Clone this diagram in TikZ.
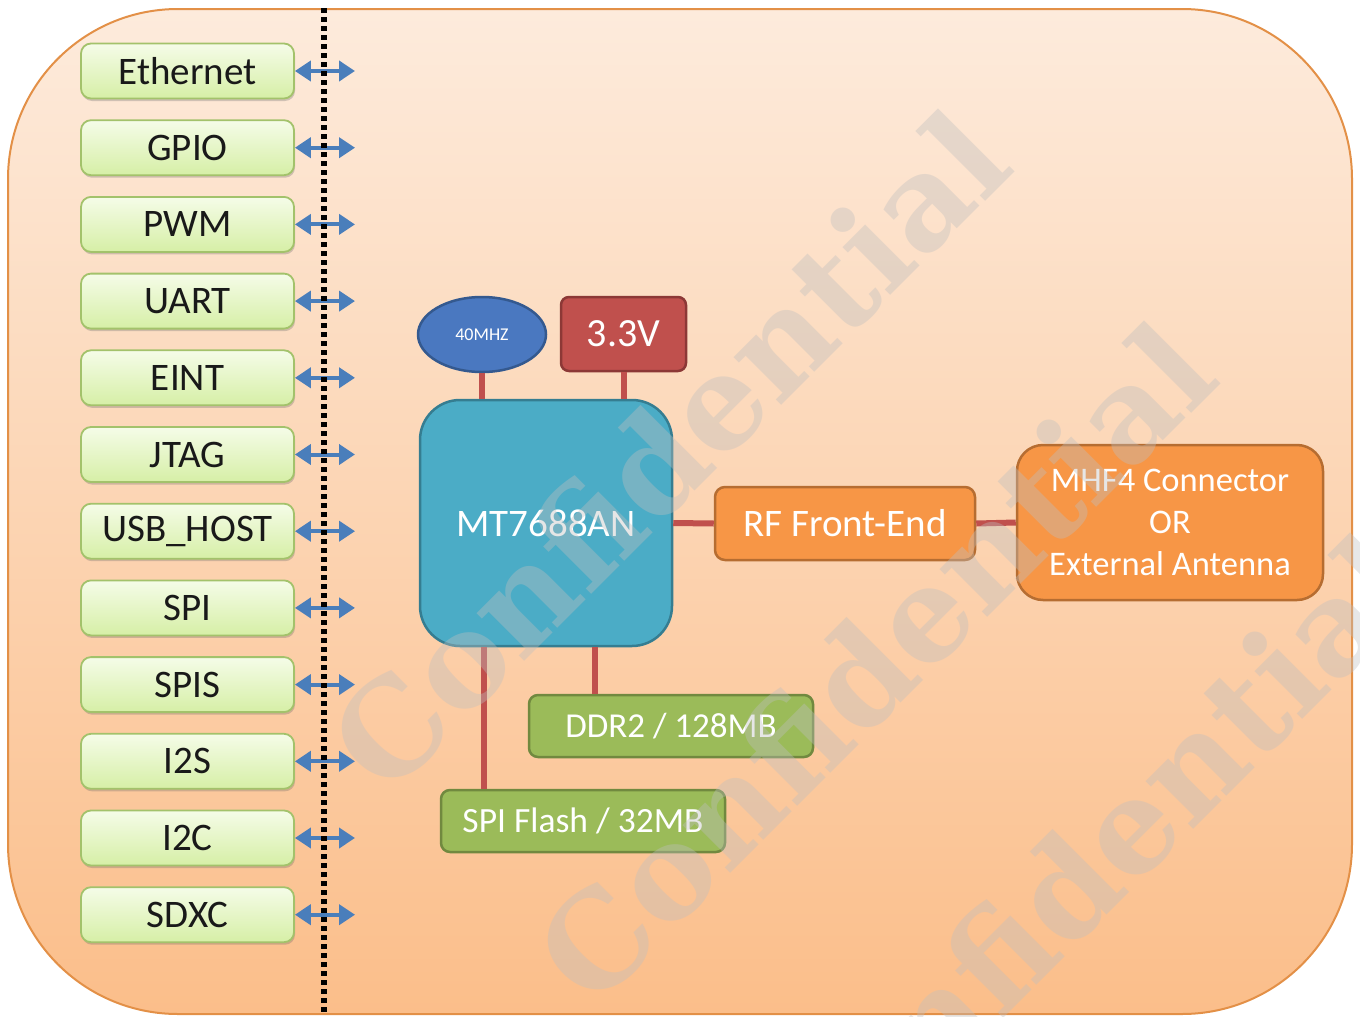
\documentclass[tikz,border=0pt]{standalone}
\usepackage{fontspec}
\setmainfont{Carlito}
\newfontfamily\wmfont{DejaVu Serif}
\usetikzlibrary{arrows.meta,shadows,shapes.geometric}
\definecolor{bgtop}{HTML}{FDEBDC}
\definecolor{bgbot}{HTML}{FBBE8A}
\definecolor{bgline}{HTML}{E39047}
\definecolor{lgtop}{HTML}{F5FCE8}
\definecolor{lgbot}{HTML}{D6EFA6}
\definecolor{lgline}{HTML}{A3C26B}
\definecolor{busblue}{HTML}{4A7EBB}
\definecolor{xtalfill}{HTML}{4A78C0}
\definecolor{xtalline}{HTML}{34598F}
\definecolor{pwrfill}{HTML}{C0504D}
\definecolor{pwrline}{HTML}{8C3836}
\definecolor{socfill}{HTML}{4BACC6}
\definecolor{socline}{HTML}{357D91}
\definecolor{rffill}{HTML}{F79646}
\definecolor{rfline}{HTML}{B66D31}
\definecolor{memfill}{HTML}{9BBB59}
\definecolor{memline}{HTML}{71893F}
\definecolor{linkred}{HTML}{C0504D}
\definecolor{wmgray}{HTML}{BFBFBF}
\tikzset{
  ifbox/.style={draw=lgline, line width=1.8pt, rounded corners=10pt,
    top color=lgtop, bottom color=lgbot, minimum width=213pt, minimum height=55pt,
    inner sep=0pt, text=black!90, font=\fontsize{39}{42}\selectfont,
    drop shadow={shadow xshift=1pt, shadow yshift=-2.5pt, opacity=0.3, fill=black!60}},
  busarrow/.style={busblue, line width=4pt,
    {Triangle[width=20pt,length=16pt]}-{Triangle[width=20pt,length=16pt]}},
  dotline/.style={black, line width=5.5pt, dash pattern=on 5pt off 4pt},
  blk/.style={line width=2.5pt, inner sep=0pt, text=white, align=center},
  link/.style={linkred, line width=6pt},
  wm/.style={rotate=45, text=wmgray, opacity=0.38, inner sep=0pt,
    font=\wmfont\bfseries\fontsize{130}{130}\selectfont}
}
\begin{document}
\begin{tikzpicture}[x=1pt,y=-1pt]
\useasboundingbox (0,0) rectangle (1360,1017);
\draw[bgline, line width=2pt, rounded corners=170pt, top color=bgtop, bottom color=bgbot]
  (8,9) rectangle (1352,1014);

% interface boxes and bus arrows
\foreach \lbl [count=\i] in {Ethernet,GPIO,PWM,UART,EINT,JTAG,USB\_HOST,SPI,SPIS,I2S,I2C,SDXC} {
  \pgfmathsetmacro\yy{71+(\i-1)*76.7}
  \node[ifbox] (b\i) at (187.5,\yy) {\lbl};
  \coordinate (e\i) at (355,\yy);
  \draw[busarrow] (b\i.east) -- (e\i);
}
\coordinate (dtop) at (324,8);
\coordinate (dbot) at (324,1012);
\draw[dotline] (dtop) -- (dbot);

% blocks
\node[blk, ellipse, fill=xtalfill, draw=xtalline, minimum width=128pt, minimum height=75pt,
  font=\fontsize{18}{20}\selectfont] (xtal) at (482,334.5) {40MHZ};
\node[blk, fill=pwrfill, draw=pwrline, rounded corners=8pt, minimum width=125pt, minimum height=74pt,
  font=\fontsize{40}{44}\selectfont] (pwr) at (623.5,334) {3.3V};
\node[blk, fill=socfill, draw=socline, rounded corners=40pt, minimum width=252pt, minimum height=246pt,
  font=\fontsize{39}{42}\selectfont] (soc) at (546,523) {MT7688AN};
\node[blk, fill=rffill, draw=rfline, rounded corners=10pt, minimum width=260pt, minimum height=73pt,
  font=\fontsize{39}{42}\selectfont] (rf) at (845,523.5) {RF Front-End};
\node[blk, fill=rffill, draw=rfline, rounded corners=26pt, minimum width=306pt, minimum height=155pt,
  font=\fontsize{34.5}{42}\selectfont] (ant) at (1170,522.5) {MHF4 Connector\\OR\\External Antenna};
\node[blk, fill=memfill, draw=memline, rounded corners=9pt, minimum width=284pt, minimum height=62pt,
  font=\fontsize{35}{38}\selectfont] (ddr) at (671,726) {DDR2 / 128MB};
\node[blk, fill=memfill, draw=memline, rounded corners=9pt, minimum width=284pt, minimum height=62pt,
  font=\fontsize{35.5}{38}\selectfont] (flash) at (583,821) {SPI Flash / 32MB};

% links
\draw[link] (xtal.south) -- (xtal.south |- soc.north);
\draw[link] (pwr.south) -- (pwr.south |- soc.north);
\draw[link] (soc.east) -- (rf.west);
\draw[link] (rf.east) -- (ant.west);
\draw[link] ([xshift=-76pt]ddr.north) -- ([xshift=-76pt]ddr.north |- soc.south);
\draw[link] ([xshift=-99pt]flash.north) -- ([xshift=-99pt]flash.north |- soc.south);

% watermarks
\node[wm] (wm1) at (668,450) {Confidential};
\node[wm] (wm2) at (874,662) {Confidential};
\node[wm] (wm3) at (1080,874) {Confidential};
\end{tikzpicture}
\end{document}
